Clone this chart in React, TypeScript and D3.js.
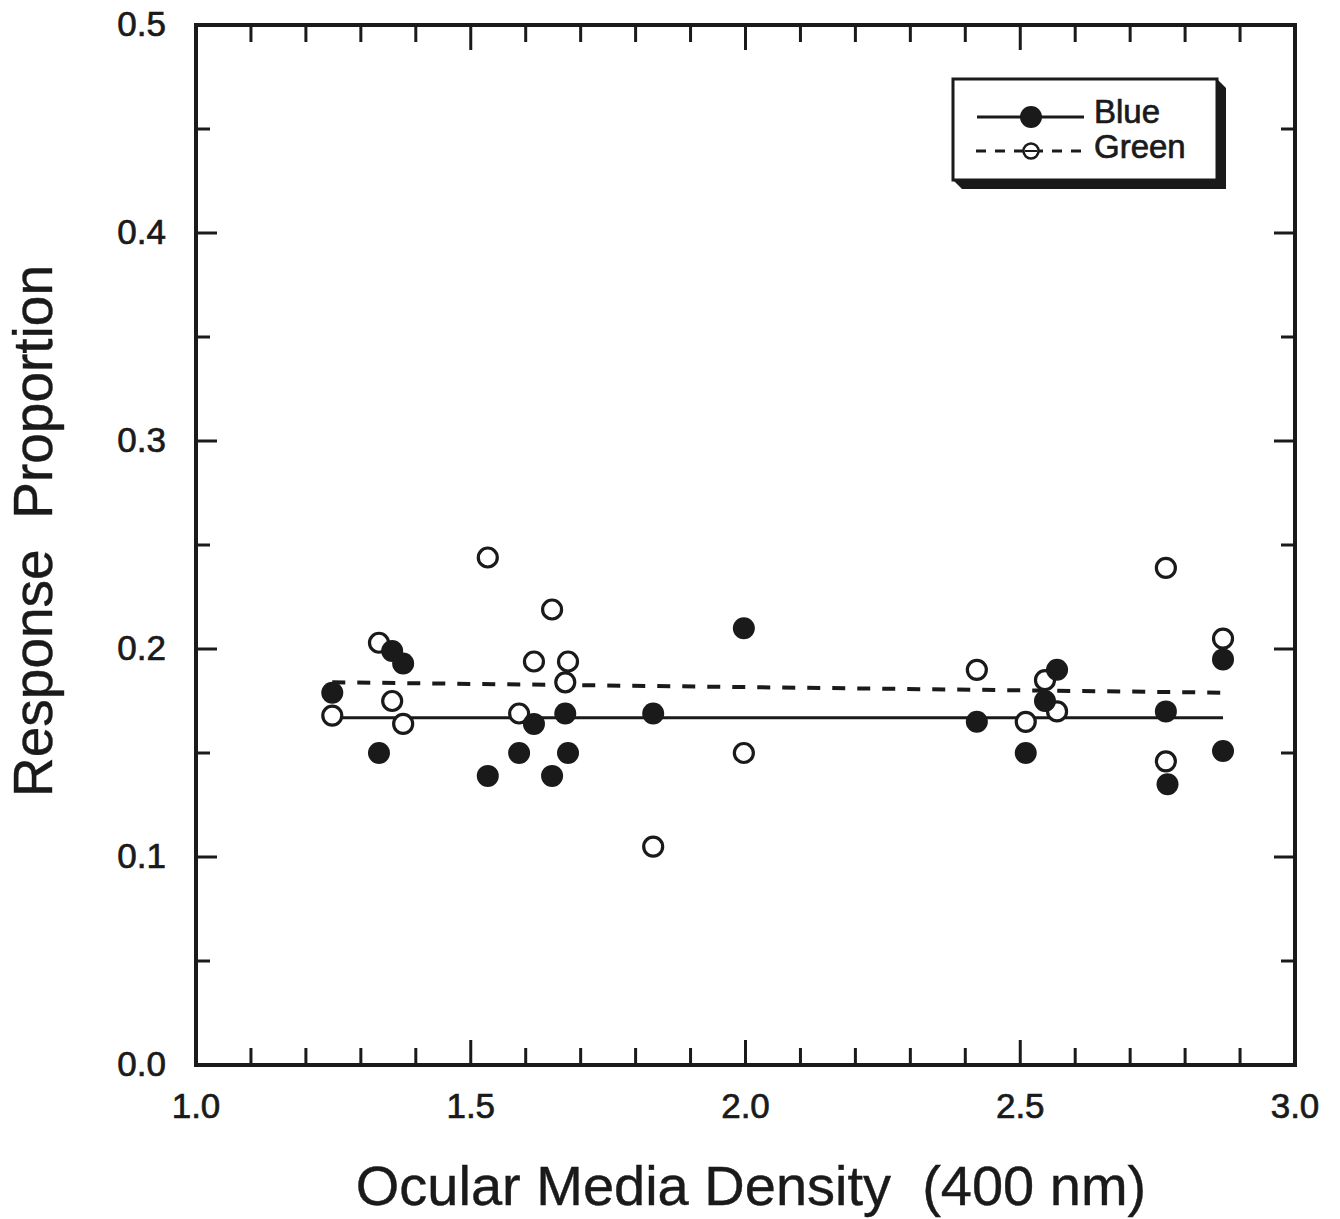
import React from 'react';
import * as d3 from 'd3';

// ocular media density (x) and response proportion (y) per observer
const blueX = [1.248, 1.333, 1.357, 1.377, 1.531, 1.588, 1.615, 1.648, 1.672, 1.677, 1.832, 1.997, 2.421, 2.51, 2.545, 2.567, 2.765, 2.768, 2.869, 2.869];
const blueY = [0.179, 0.15, 0.199, 0.193, 0.139, 0.15, 0.164, 0.139, 0.169, 0.15, 0.169, 0.21, 0.165, 0.15, 0.175, 0.19, 0.17, 0.135, 0.195, 0.151];
const greenX = [1.248, 1.333, 1.357, 1.377, 1.531, 1.588, 1.615, 1.648, 1.672, 1.677, 1.832, 1.997, 2.421, 2.51, 2.545, 2.567, 2.765, 2.765, 2.869];
const greenY = [0.168, 0.203, 0.175, 0.164, 0.244, 0.169, 0.194, 0.219, 0.184, 0.194, 0.105, 0.15, 0.19, 0.165, 0.185, 0.17, 0.239, 0.146, 0.205];

// regression lines: [start, end]
const fitX = [1.248, 2.869];
const blueFit = [0.167, 0.167];
const greenFit = [0.184, 0.179];

const xTickLabels = ['1.0', '1.5', '2.0', '2.5', '3.0'];
const yTickLabels = ['0.0', '0.1', '0.2', '0.3', '0.4', '0.5'];

const W = 1340;
const H = 1219;
const left = 196;
const right = 1295;
const top = 25;
const bottom = 1065;
const font = 'Liberation Sans, Arial, Helvetica, sans-serif';
const ink = '#1a1a1a';

export default function App() {
  const x = d3.scaleLinear().domain([1, 3]).range([left, right]);
  const y = d3.scaleLinear().domain([0, 0.5]).range([bottom, top]);

  const xMinor = d3.range(0, 21).map((i) => 1 + i * 0.1);
  const yMinor = d3.range(0, 11).map((i) => i * 0.05);

  const line = d3
    .line<number>()
    .x((_, i) => x(fitX[i]))
    .y((d) => y(d));

  const tick = { stroke: ink, strokeWidth: 3 };
  // a touch of stroke to get the heavier look of the original type
  const label = { fontFamily: font, fill: ink, stroke: ink, strokeWidth: 0.7 };

  // legend geometry
  const lg = { x: 953, y: 79, w: 264, h: 101, sh: 9 };

  return (
    <svg width={W} height={H} style={{ display: 'block', position: 'absolute', left: 0, top: 0 }}>
      <rect width={W} height={H} fill="#fff" />

      {/* ticks on all four sides, pointing in */}
      {xMinor.map((v, i) => {
        const len = i % 5 === 0 ? 25 : 17;
        return (
          <g key={'xt' + i}>
            <line x1={x(v)} x2={x(v)} y1={bottom} y2={bottom - len} {...tick} />
            <line x1={x(v)} x2={x(v)} y1={top} y2={top + len} {...tick} />
          </g>
        );
      })}
      {yMinor.map((v, i) => {
        const len = i % 2 === 0 ? 21 : 14;
        return (
          <g key={'yt' + i}>
            <line x1={left} x2={left + len} y1={y(v)} y2={y(v)} {...tick} />
            <line x1={right} x2={right - len} y1={y(v)} y2={y(v)} {...tick} />
          </g>
        );
      })}

      <rect x={left} y={top} width={right - left} height={bottom - top} fill="none" stroke={ink} strokeWidth={4} />

      {/* tick labels */}
      {xTickLabels.map((t) => (
        <text key={t} x={x(+t)} y={1118} textAnchor="middle" fontSize={35} {...label}>
          {t}
        </text>
      ))}
      {yTickLabels.map((t) => (
        <text key={t} x={166} y={y(+t) + 11} textAnchor="end" fontSize={35} {...label}>
          {t}
        </text>
      ))}

      {/* axis titles */}
      <text x={751} y={1205} textAnchor="middle" fontSize={56} {...label} strokeWidth={0.4} style={{ whiteSpace: 'pre' }}>
        {'Ocular Media Density  (400 nm)'}
      </text>
      <text
        transform="translate(52,531) rotate(-90)"
        textAnchor="middle"
        fontSize={55}
        {...label}
        strokeWidth={0.4}
        style={{ whiteSpace: 'pre' }}
      >
        {'Response  Proportion'}
      </text>

      {/* fit lines */}
      <path d={line(blueFit) ?? ''} fill="none" stroke={ink} strokeWidth={3} />
      <path d={line(greenFit) ?? ''} fill="none" stroke={ink} strokeWidth={4} strokeDasharray="13 12" />

      {/* points */}
      {greenX.map((v, i) => (
        <circle key={'g' + i} cx={x(v)} cy={y(greenY[i])} r={9.5} fill="#fff" stroke={ink} strokeWidth={3.2} />
      ))}
      {blueX.map((v, i) => (
        <circle key={'b' + i} cx={x(v)} cy={y(blueY[i])} r={11} fill={ink} />
      ))}

      {/* legend with drop shadow */}
      <polygon
        points={`${lg.x + lg.w},${lg.y} ${lg.x + lg.w + lg.sh},${lg.y + lg.sh} ${lg.x + lg.w + lg.sh},${lg.y + lg.h + lg.sh} ${lg.x + lg.sh},${lg.y + lg.h + lg.sh} ${lg.x},${lg.y + lg.h}`}
        fill={ink}
      />
      <rect x={lg.x} y={lg.y} width={lg.w} height={lg.h} fill="#fff" stroke={ink} strokeWidth={3} />
      <line x1={977} x2={1084} y1={117} y2={117} stroke={ink} strokeWidth={3} />
      <circle cx={1031} cy={117} r={11} fill={ink} />
      <line x1={976} x2={1086} y1={151} y2={151} stroke={ink} strokeWidth={3} strokeDasharray="10 9" />
      <circle cx={1031} cy={151} r={7.5} fill="#fff" stroke={ink} strokeWidth={2.5} />
      <line x1={1025} x2={1037} y1={151} y2={151} stroke={ink} strokeWidth={2} />
      <text x={1094} y={123} fontSize={33} {...label}>
        Blue
      </text>
      <text x={1094} y={158} fontSize={33} {...label}>
        Green
      </text>
    </svg>
  );
}
